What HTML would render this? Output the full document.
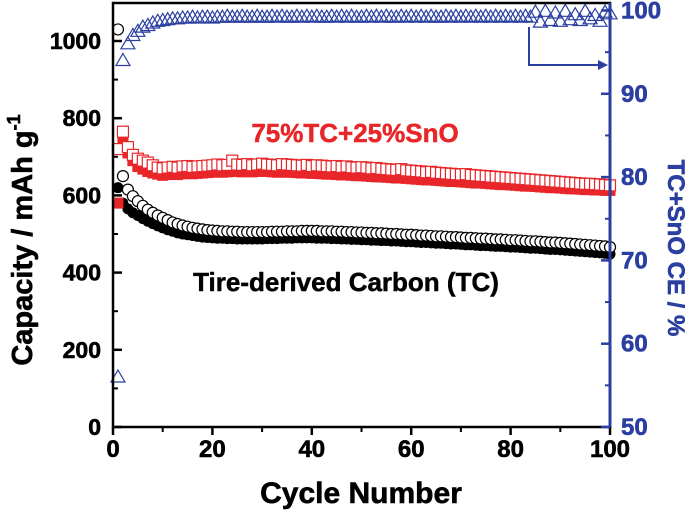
<!DOCTYPE html>
<html><head><meta charset="utf-8"><style>
body{margin:0;background:#fff;}
svg text{font-family:"Liberation Sans",Arial,sans-serif;font-weight:bold;}
</style></head><body>
<svg id="chart" width="685" height="511" xmlns="http://www.w3.org/2000/svg">
<g id="marks"></g>
<g id="axes"></g>
</svg>
<script>
const cycles = Array.from({length:100},(_,i)=>i+1);
const redOpen = [720,765,725,705,695,690,685,678,672,670,672,674,672,675,676,674,675,676,677,678,680,678,679,690,680,679,681,678,680,682,680,679,678,681,680,679,678,677,679,676,678,677,676,675,676,674,675,673,672,673,672,670,671,669,668,667,666,668,665,664,663,662,660,661,659,658,657,656,655,654,655,653,652,651,650,649,648,647,646,645,644,643,642,641,640,639,638,637,636,635,634,633,632,631,630,630,629,628,627,626];
const redFill = [580,740,710,690,675,668,662,658,655,652,654,655,654,656,657,656,657,658,659,660,661,660,661,662,662,661,662,661,662,663,662,661,660,661,660,660,659,658,658,657,657,656,655,655,654,653,653,652,651,651,650,649,648,648,647,646,645,645,644,643,642,641,640,640,639,638,637,636,636,635,634,633,632,632,631,630,629,628,628,627,626,625,624,624,623,622,621,620,620,619,618,617,617,616,615,615,614,614,613,613];
const blackOpen = [1030,650,615,598,585,573,563,555,548,542,536,530,526,522,519,516,514,512,510,509,508,507,507,506,506,505,505,505,505,505,505,506,506,506,507,507,507,508,508,508,508,507,507,507,506,506,505,505,504,504,503,503,502,502,501,500,500,499,498,498,497,496,496,495,494,494,493,492,492,491,490,490,489,488,488,487,486,486,485,484,484,483,482,481,481,480,479,478,478,477,476,475,474,473,472,471,470,469,468,466];
const blackFill = [620,580,565,555,548,540,533,527,521,516,511,507,503,500,498,496,494,492,491,490,489,489,488,488,487,487,487,487,487,487,488,488,488,489,489,489,490,490,490,490,489,489,489,488,488,487,487,486,486,485,485,484,484,483,483,482,482,481,480,480,479,478,478,477,476,476,475,474,474,473,472,472,471,470,470,469,468,468,467,466,466,465,464,463,463,462,461,460,460,459,458,457,456,455,454,453,452,451,450,448];
const ce = [56,94,96,97,97.5,98,98.2,98.5,98.7,98.8,98.9,99,99,99.1,99.1,99.2,99.1,99.2,99.2,99.1,99.2,99.2,99.3,99.2,99.2,99.3,99.2,99.2,99.3,99.2,99.2,99.3,99.2,99.3,99.2,99.2,99.3,99.2,99.3,99.2,99.3,99.2,99.2,99.3,99.2,99.3,99.2,99.3,99.2,99.2,99.3,99.2,99.3,99.2,99.3,99.2,99.2,99.3,99.2,99.3,99.2,99.3,99.2,99.3,99.2,99.2,99.3,99.2,99.3,99.2,99.3,99.2,99.3,99.2,99.3,99.2,99.3,99.2,99.3,99.2,99.3,99.2,99.3,99.2,99.8,98.6,99.9,98.8,99.7,98.7,99.9,98.9,99.5,98.8,99.9,99.0,99.4,98.7,99.8,99.6];
const xTicks = [0,20,40,60,80,100];
const yTicks = [0,200,400,600,800,1000];
const y2Ticks = [50,60,70,80,90,100];

const X0=113,X1=610,YT=3,YB=427;
const xs=v=>X0+(v/100)*(X1-X0);
const ys=v=>YB-v*0.386;
const ys2=v=>427-(v-50)*8.33;
const NS="http://www.w3.org/2000/svg";
const marks=document.getElementById('marks'), axes=document.getElementById('axes');
function mk(tag,at,parent){const e=document.createElementNS(NS,tag);for(const k in at)e.setAttribute(k,at[k]);parent.appendChild(e);return e;}

const gBF=mk('g',{},marks);
cycles.forEach((c,i)=>{const e=mk('circle',{cx:xs(c),cy:ys(blackFill[i]),r:5.5,fill:'#000'},gBF);});
const gBO=mk('g',{},marks);
cycles.forEach((c,i)=>{const e=mk('circle',{cx:xs(c),cy:ys(blackOpen[i]),r:5.5,fill:'#fff',stroke:'#000','stroke-width':1.2},gBO);});
const gRF=mk('g',{},marks);
cycles.forEach((c,i)=>{const e=mk('rect',{x:xs(c)-5.5,y:ys(redFill[i])-5.5,width:11,height:11,fill:'#e8262a'},gRF);});
const gRO=mk('g',{},marks);
cycles.forEach((c,i)=>{const e=mk('rect',{x:xs(c)-5.5,y:ys(redOpen[i])-5.5,width:11,height:11,fill:'#fff',stroke:'#e8262a','stroke-width':1.2},gRO);});
const gCE=mk('g',{},marks);
cycles.forEach((c,i)=>{const x=xs(c),y=ys2(ce[i]);const e=mk('polygon',{points:`${x},${y-7} ${x-7},${y+5} ${x+7},${y+5}`,fill:'none',stroke:'#2a3fa0','stroke-width':1.2},gCE);});

let f=mk('rect',{x:X0,y:YT,width:X1-X0,height:YB-YT,fill:'none',stroke:'#000','stroke-width':2.5},axes);

let ra=mk('line',{x1:X1,y1:YT,x2:X1,y2:YB+1,stroke:'#2a3fa0','stroke-width':3},axes);

const tstyle={'font-size':24,stroke:'currentColor','stroke-width':0.6};
xTicks.forEach(v=>{mk('line',{x1:xs(v),y1:YB,x2:xs(v),y2:YB+8,stroke:'#000','stroke-width':2.5},axes);
 mk('line',{x1:xs(v+10),y1:YB,x2:xs(v+10),y2:YB+5,stroke:v<100?'#000':'none','stroke-width':2},axes);
 const t=mk('text',{x:xs(v),y:457,'text-anchor':'middle','font-size':24,fill:'#000',stroke:'#000','stroke-width':0.6},axes);t.textContent=v;});
yTicks.forEach(v=>{mk('line',{x1:X0,y1:ys(v),x2:X0+9,y2:ys(v),stroke:'#000','stroke-width':2.5},axes);
 if(v<1000)mk('line',{x1:X0,y1:ys(v+100),x2:X0+5,y2:ys(v+100),stroke:'#000','stroke-width':2},axes);
 const t=mk('text',{x:101,y:ys(v)+8,'text-anchor':'end','font-size':23,fill:'#000',stroke:'#000','stroke-width':0.6},axes);t.textContent=v;});
y2Ticks.forEach(v=>{mk('line',{x1:X1,y1:ys2(v),x2:X1-9,y2:ys2(v),stroke:'#2a3fa0','stroke-width':2.5},axes);
 if(v<100)mk('line',{x1:X1,y1:ys2(v+5),x2:X1-5,y2:ys2(v+5),stroke:'#2a3fa0','stroke-width':2},axes);
 const t=mk('text',{x:621,y:ys2(v)+8,'font-size':24,fill:'#2a3fa0',stroke:'#2a3fa0','stroke-width':0.6},axes);t.textContent=v;});
</script>
<svg style="position:absolute;left:0;top:0" width="685" height="511" xmlns="http://www.w3.org/2000/svg">
<text x="361" y="503" text-anchor="middle" font-size="30" fill="#000" stroke="#000" stroke-width="0.6" font-family="Liberation Sans" font-weight="bold">Cycle Number</text>
<text transform="translate(32,240) rotate(-90)" text-anchor="middle" font-size="29" fill="#000" stroke="#000" stroke-width="0.6" font-family="Liberation Sans" font-weight="bold">Capacity / mAh g<tspan font-size="18" dy="-12">-1</tspan></text>
<text transform="translate(668,248) rotate(90)" text-anchor="middle" font-size="24" fill="#2a3fa0" stroke="#2a3fa0" stroke-width="0.6" font-family="Liberation Sans" font-weight="bold">TC+SnO CE / %</text>
<text x="355" y="142" text-anchor="middle" font-size="26" fill="#e8262a" stroke="#e8262a" stroke-width="0.5" font-family="Liberation Sans" font-weight="bold">75%TC+25%SnO</text>
<text x="346" y="291" text-anchor="middle" font-size="26" fill="#000" stroke="#000" stroke-width="0.5" font-family="Liberation Sans" font-weight="bold">Tire-derived Carbon (TC)</text>
<polyline points="529,27 529,65 600,65" fill="none" stroke="#2a3fa0" stroke-width="2"/>
<polygon points="608,65 598,60 598,70" fill="#2a3fa0"/>
</svg>
</body></html>
